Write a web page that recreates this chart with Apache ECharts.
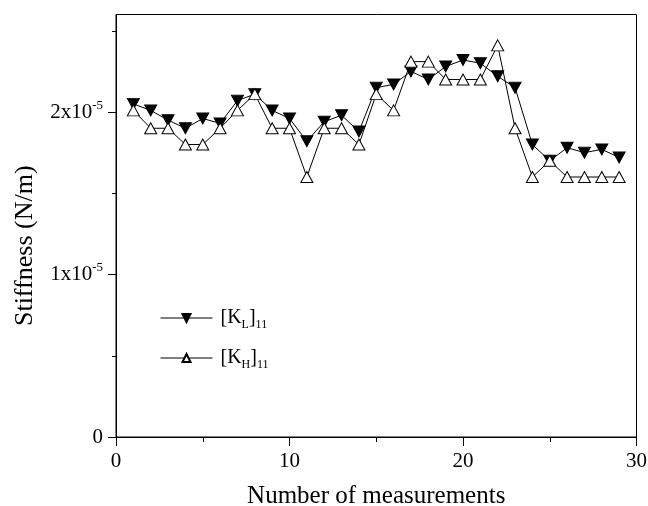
<!DOCTYPE html>
<html><head><meta charset="utf-8">
<script src="https://cdn.jsdelivr.net/npm/echarts@6/dist/echarts.min.js"></script>
<style>html,body{margin:0;padding:0;background:#fff}#c{width:648px;height:506px}</style>
</head><body><div id="c"></div>
<script>
// Stiffness values in units of 1e-5 N/m
const measurements = [1,2,3,4,5,6,7,8,9,10,11,12,13,14,15,16,17,18,19,20,21,22,23,24,25,26,27,28,29];
const kL = [2.05,2.01,1.95,1.90,1.96,1.93,2.07,2.11,2.01,1.96,1.82,1.94,1.98,1.88,2.15,2.17,2.25,2.20,2.28,2.32,2.30,2.22,2.15,1.80,1.70,1.78,1.75,1.77,1.72];
const kH = [2.01,1.90,1.90,1.80,1.80,1.90,2.01,2.11,1.90,1.90,1.60,1.90,1.90,1.80,2.11,2.01,2.31,2.31,2.20,2.20,2.20,2.41,1.90,1.60,1.70,1.60,1.60,1.60,1.60];
const xMajorTicks = [0,10,20,30];
const xMinorTicks = [5,15,25];
const yMajorTicks = [0,1,2];
const yMinorTicks = [0.5,1.5,2.5];
const seriesNames = ['KL','KH'];
const legendLabels = {KL:'{n|[K}{sub|L}{n|]}{sub|11}', KH:'{n|[K}{sub|H}{n|]}{sub|11}'};

const FONT = 'Liberation Serif';
const downTri = 'path://M0,0 L10,0 L5,9 Z';
const upTri = 'path://M5,0 L10,9 L0,9 Z';
const chart = echarts.init(document.getElementById('c'));
const axisLineStyle = {color:'#000', width:1};
chart.setOption({
  animation:false,
  backgroundColor:'#fff',
  grid:{left:116, right:11.5, top:14.5, bottom:69, containLabel:false, outerBoundsMode:'none',
        show:true, borderColor:'#000', borderWidth:1, backgroundColor:'transparent'},
  legend:{
    orient:'vertical', left:160, top:308, padding:0, itemWidth:52, itemHeight:10, itemGap:17,
    data:seriesNames,
    lineStyle:{width:1, color:'#000'},
    formatter: n => legendLabels[n],
    textStyle:{fontFamily:FONT, color:'#000', padding:[0,0,0,3], rich:{
      n:{fontFamily:FONT, fontSize:20, color:'#000', lineHeight:26, verticalAlign:'middle'},
      sub:{fontFamily:FONT, fontSize:12, color:'#000', verticalAlign:'bottom'}
    }}
  },
  xAxis:[{
    type:'value', min:0, max:30, interval:10,
    name:'Number of measurements', nameLocation:'middle', nameGap:47,
    nameTextStyle:{fontFamily:FONT, fontSize:25, color:'#000'},
    axisLine:{show:true, onZero:false, lineStyle:axisLineStyle},
    axisTick:{show:true, length:9, lineStyle:axisLineStyle, customValues:xMajorTicks},
    axisLabel:{fontFamily:FONT, fontSize:21, color:'#000', margin:14, customValues:xMajorTicks},
    splitLine:{show:false}
  },{
    type:'value', min:0, max:30, position:'bottom',
    axisLine:{show:false}, axisLabel:{show:false}, splitLine:{show:false},
    axisTick:{show:true, length:5, lineStyle:axisLineStyle, customValues:xMinorTicks}
  }],
  yAxis:[{
    type:'value', min:0, max:2.6,
    name:'Stiffness (N/m)', nameLocation:'middle', nameGap:78, nameRotate:90,
    nameTextStyle:{fontFamily:FONT, fontSize:26, color:'#000', padding:[0,40,0,0]},
    axisLine:{show:true, onZero:false, lineStyle:axisLineStyle},
    axisTick:{show:true, length:8, lineStyle:axisLineStyle, customValues:yMajorTicks},
    axisLabel:{customValues:yMajorTicks, margin:13, fontFamily:FONT, color:'#000',
      formatter: v => v===0 ? '{b|0}' : '{b|'+v+'x10}{s|-5}',
      rich:{
        b:{fontFamily:FONT, fontSize:21, color:'#000', lineHeight:26, verticalAlign:'middle'},
        s:{fontFamily:FONT, fontSize:13, color:'#000', verticalAlign:'top'}
      }},
    splitLine:{show:false}
  },{
    type:'value', min:0, max:2.6, position:'left',
    axisLine:{show:false}, axisLabel:{show:false}, splitLine:{show:false},
    axisTick:{show:true, length:4, lineStyle:axisLineStyle, customValues:yMinorTicks}
  }],
  series:[{
    name:'KL', type:'line', xAxisIndex:0, yAxisIndex:0,
    data: measurements.map((m,i)=>[m,kL[i]]),
    symbol:downTri, symbolSize:[12,11], showAllSymbol:true,
    lineStyle:{color:'#000', width:1},
    itemStyle:{color:'#000', borderColor:'#000', borderWidth:1}
  },{
    name:'KH', type:'line', xAxisIndex:0, yAxisIndex:0,
    data: measurements.map((m,i)=>[m,kH[i]]),
    symbol:upTri, symbolSize:[12,11], showAllSymbol:true,
    lineStyle:{color:'#000', width:1},
    itemStyle:{color:'#fff', borderColor:'#000', borderWidth:1}
  }]
});
</script></body></html>
